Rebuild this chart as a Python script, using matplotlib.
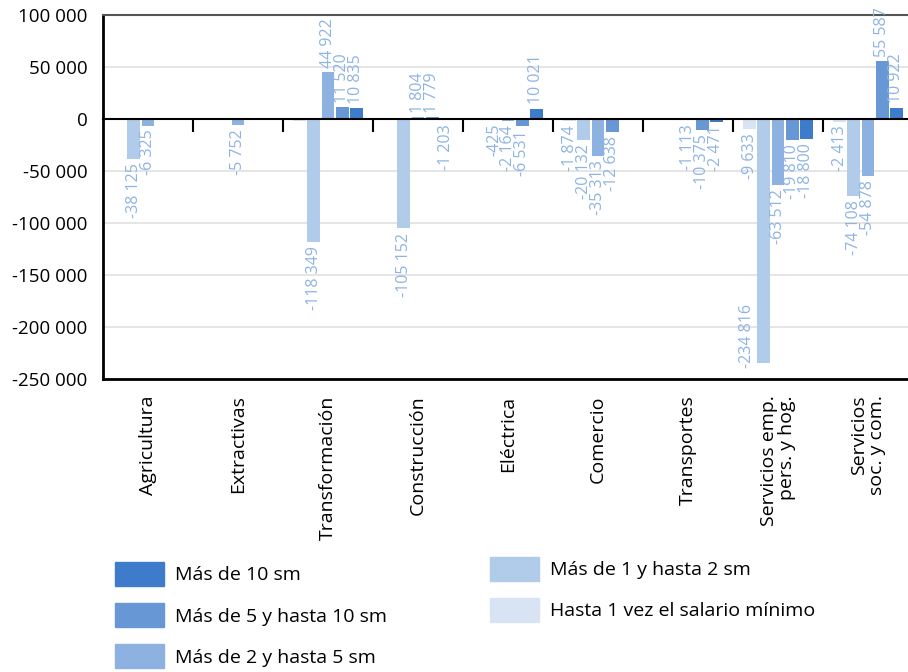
import numpy as np
import matplotlib.pyplot as plt
from matplotlib.patches import Patch
from matplotlib.ticker import FuncFormatter
from matplotlib import transforms

plt.rcParams['font.family'] = ['Open Sans', 'DejaVu Sans']

sectores = ['Agricultura', 'Extractivas', 'Transformación', 'Construcción',
            'Eléctrica', 'Comercio', 'Transportes',
            'Servicios emp.\npers. y hog.', 'Servicios\nsoc. y com.']

# variación de puestos por nivel de ingreso (sm = salario mínimo)
hasta_1 = [-900, -300, -1500, -700, -500, -1874, -400, -9633, -2413]
de_1_a_2 = [-38125, -500, -118349, -105152, -425, -20132, -600, -234816, -74108]
de_2_a_5 = [-6325, -5752, 44922, 1804, -2164, -35313, -1113, -63512, -54878]
de_5_a_10 = [-600, -400, 11520, 1779, -6531, -12638, -10375, -19810, 55587]
mas_de_10 = [-300, -200, 10835, -1203, 10021, -600, -2471, -18800, 10922]

# qué barras llevan su valor escrito
rot_hasta_1 = [0, 0, 0, 0, 0, 1, 0, 1, 1]
rot_1_a_2 = [1, 0, 1, 1, 1, 1, 0, 1, 1]
rot_2_a_5 = [1, 1, 1, 1, 1, 1, 1, 1, 1]
rot_5_a_10 = [0, 0, 1, 1, 1, 1, 1, 1, 1]
rot_mas_10 = [0, 0, 1, 1, 1, 0, 1, 1, 1]

series = [
    ('Hasta 1 vez el salario mínimo', hasta_1, rot_hasta_1, '#d8e4f4'),
    ('Más de 1 y hasta 2 sm', de_1_a_2, rot_1_a_2, '#b1cbea'),
    ('Más de 2 y hasta 5 sm', de_2_a_5, rot_2_a_5, '#8db1e0'),
    ('Más de 5 y hasta 10 sm', de_5_a_10, rot_5_a_10, '#6798d5'),
    ('Más de 10 sm', mas_de_10, rot_mas_10, '#3f7bcb'),
]

fig = plt.figure(figsize=(9.08, 6.72), dpi=100)
W, H = 908, 672
ax = fig.add_axes([103 / W, 1 - 379 / H, 810 / W, 364 / H])

x = np.arange(len(sectores)) + 0.5
paso = 0.156
ancho = 0.144
color_rotulo = '#8eb4e3'

for j, (nombre, valores, rotulos, color) in enumerate(series):
    pos = x + (j - 2) * paso
    ax.bar(pos, valores, width=ancho, color=color, zorder=2)
    for px, v, r in zip(pos, valores, rotulos):
        if not r:
            continue
        txt = f'{v:,}'.replace(',', ' ')
        if v < -200000:
            # el rótulo de la barra más larga va a su izquierda, dentro del área
            ax.annotate(txt, (px, v), xytext=(-17, -5), textcoords='offset pixels',
                        rotation=90, ha='center', va='bottom',
                        fontsize=11.5, color=color_rotulo, zorder=3)
            continue
        ax.annotate(txt, (px, v), xytext=(0, 3 if v > 0 else -3),
                    textcoords='offset points', rotation=90,
                    ha='center', va='bottom' if v > 0 else 'top',
                    fontsize=11.5, color=color_rotulo, zorder=3)

ax.set_xlim(0, len(sectores))
ax.set_ylim(-250000, 100000)
ax.set_yticks(np.arange(-250000, 100001, 50000))
ax.yaxis.set_major_formatter(FuncFormatter(lambda v, p: f'{int(v):,}'.replace(',', ' ')))
ax.tick_params(axis='y', length=0, pad=11, labelsize=13.5)
ax.yaxis.grid(True, color='#e0e0e0', lw=1.2)
ax.set_axisbelow(True)

# eje horizontal en cero con marcas entre sectores
ax.spines['bottom'].set_position(('data', 0))
ax.spines['bottom'].set_linewidth(1.5)
ax.set_xticks(np.arange(1, len(sectores)))
ax.set_xticklabels([])
ax.tick_params(axis='x', length=9, width=1.5, direction='out')
ax.axhline(-250000, color='black', lw=2, clip_on=False, zorder=4)
ax.spines['left'].set_linewidth(2)
ax.spines['top'].set_color('#555555')
ax.spines['top'].set_linewidth(1.5)
ax.spines['right'].set_visible(False)

trans = transforms.blended_transform_factory(ax.transData, ax.transAxes)
for xi, s in zip(x, sectores):
    ax.text(xi, -0.045, s, transform=trans, rotation=90, ha='center', va='top',
            multialignment='right', fontsize=14, linespacing=0.95)

# leyenda en dos columnas
izq = [series[4], series[3], series[2]]
der = [series[1], series[0]]
for grupo, ancla in ((izq, (115 / W, 1 - 562 / H)), (der, (490 / W, 1 - 557 / H))):
    handles = [Patch(color=c, label=n) for n, _, _, c in grupo]
    fig.legend(handles=handles, loc='upper left', bbox_to_anchor=ancla,
               frameon=False, fontsize=14, handlelength=2.5, handleheight=1.5,
               handletextpad=0.6, labelspacing=0.9, borderpad=0, borderaxespad=0)

fig.savefig('out.png', dpi=100)
